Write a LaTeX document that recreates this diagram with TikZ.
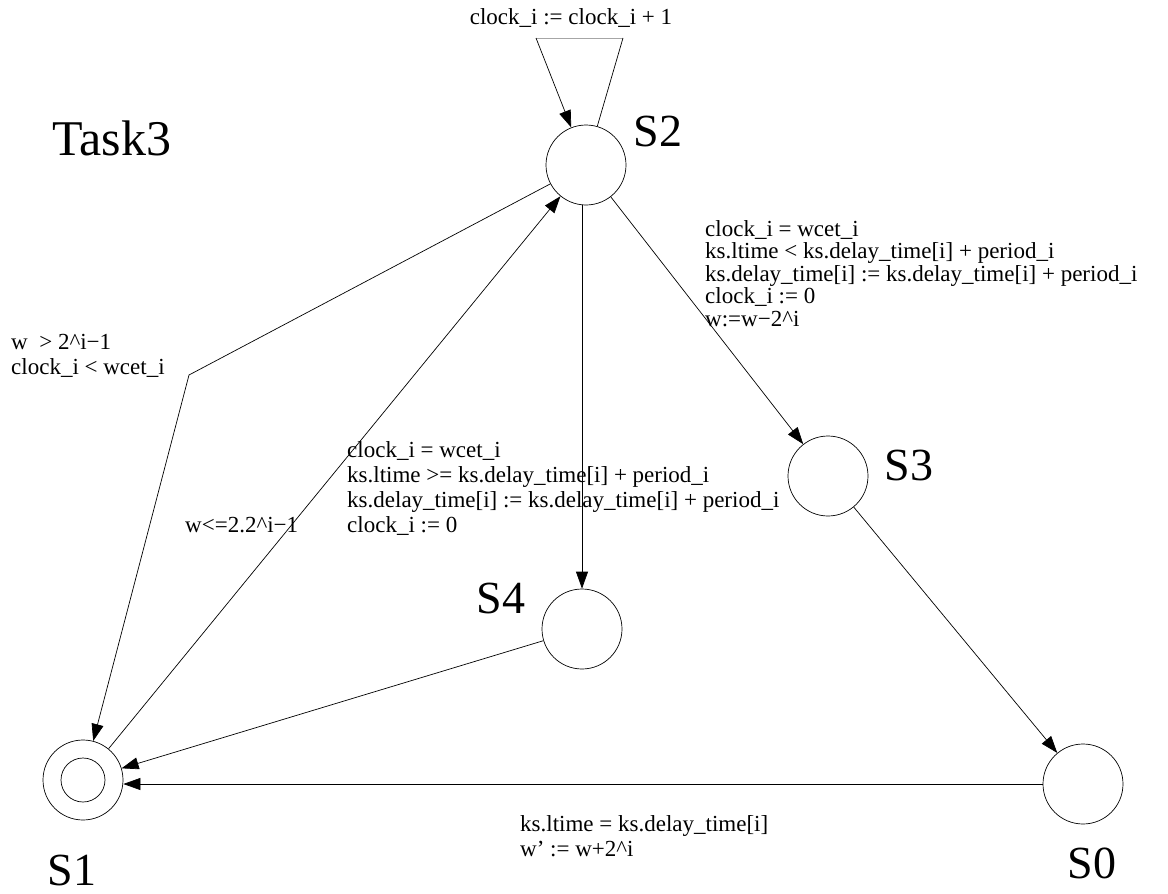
\documentclass[tikz,border=0pt]{standalone}
\usepackage{fontspec}
\setmainfont{Liberation Serif}
\usetikzlibrary{arrows.meta}
\begin{document}
\begin{tikzpicture}[x=1pt,y=-1pt,
  state/.style={circle,draw,line width=0.7pt,minimum size=80pt,inner sep=0pt},
  innerring/.style={circle,draw,line width=0.7pt,minimum size=44pt,inner sep=0pt},
  big/.style={font=\fontsize{46}{50}\selectfont,inner sep=0pt},
  lbl/.style={font=\fontsize{23}{25}\selectfont,align=left,inner sep=0pt},
  edge/.style={line width=0.7pt,-{Triangle[length=17pt,width=12pt]}},
  plain/.style={line width=0.7pt}]
\useasboundingbox (0,0) rectangle (1168,894);
% states
\node[state] (S2) at (586,165) {};
\node[state] (S3) at (828,476) {};
\node[state] (S4) at (582,629) {};
\node[state] (S0) at (1083,784) {};
\node[state] (S1) at (83,780) {};
\node[innerring] (S1i) at (83,780) {};
% state names
\node[big] (nS2) at (658,131) {S2};
\node[big] (nS3) at (909,465) {S3};
\node[big] (nS4) at (501,598) {S4};
\node[big] (nS0) at (1092,863) {S0};
\node[big] (nS1) at (72,870) {S1};
\node[font=\fontsize{50}{54}\selectfont,inner sep=0pt] (title) at (112,138) {Task3};
% self loop on S2
\coordinate (loopL) at (536,38);
\coordinate (loopR) at (623,38);
\draw[plain,gray!70] (loopL) -- (loopR);
\draw[edge] (loopL) -- (S2);
\draw[plain] (loopR) -- (S2);
\node[lbl,anchor=center] (lloop) at (571,18) {clock\_i := clock\_i + 1};
% S2 -> S1 polyline
\coordinate (bend) at (189,375);
\draw[edge] (S2) -- (bend) -- (S1);
\node[lbl,anchor=north west] (lleft) at (11,334) {w \ > 2\textasciicircum i−1\\clock\_i < wcet\_i};
% S1 -> S2
\draw[edge] (S1) -- (S2);
\node[lbl,anchor=west] (lw) at (185,525) {w<=2.2\textasciicircum i−1};
% S2 -> S4
\draw[edge] (S4.north |- S2.south) -- (S4.north);
\node[lbl,anchor=north west] (lmid) at (347,441) {clock\_i = wcet\_i\\ks.ltime >= ks.delay\_time[i] + period\_i\\ks.delay\_time[i] := ks.delay\_time[i] + period\_i\\clock\_i := 0};
% S2 -> S3
\draw[edge] (S2) -- (S3);
\node[lbl,anchor=north west,font=\fontsize{23}{22.5}\selectfont] (lright) at (705,220) {clock\_i = wcet\_i\\ks.ltime < ks.delay\_time[i] + period\_i\\ks.delay\_time[i] := ks.delay\_time[i] + period\_i\\clock\_i := 0\\w:=w−2\textasciicircum i};
% S3 -> S0
\draw[edge] (S3) -- (S0);
% S4 -> S1
\draw[edge] (S4) -- (S1);
% S0 -> S1
\draw[edge] (S0.west) -- (S0.west -| S1.east);
\node[lbl,anchor=north west] (lbot) at (520,815) {ks.ltime = ks.delay\_time[i]\\w' := w+2\textasciicircum i};
\end{tikzpicture}
\end{document}
